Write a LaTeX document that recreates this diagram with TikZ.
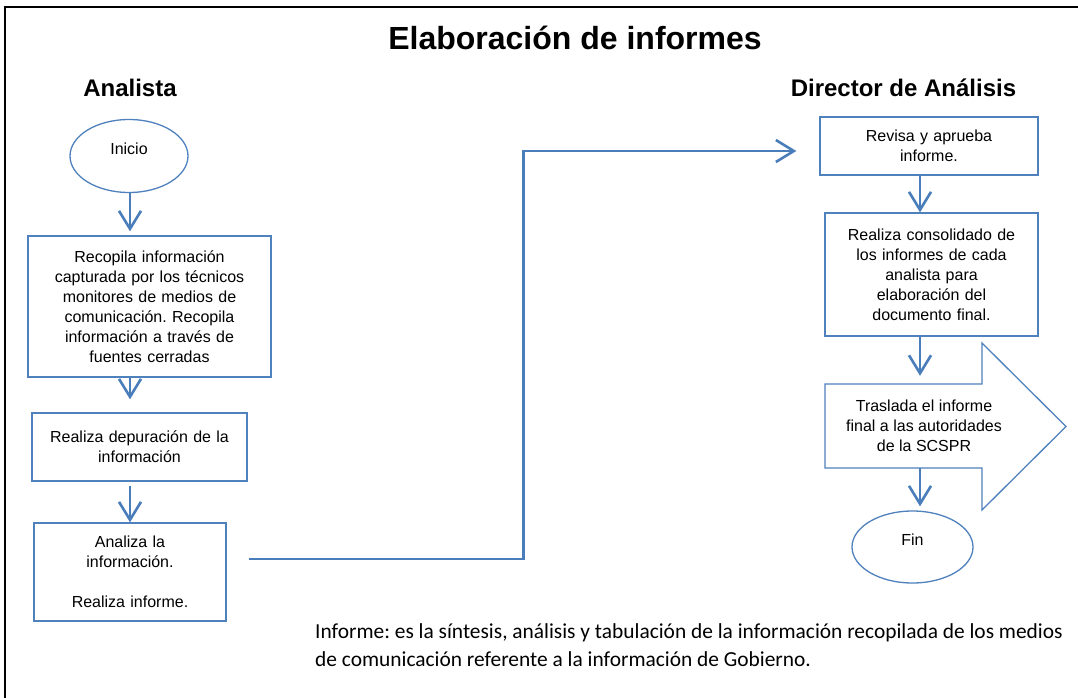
\documentclass[tikz,border=0pt]{standalone}
\usepackage{fontspec}
\setmainfont{Liberation Sans}
\newfontfamily\calfont{Carlito}
\usetikzlibrary{arrows.meta,shapes.geometric,calc}
\definecolor{boxblue}{HTML}{4F81BD}
\definecolor{arrblue}{HTML}{4A7EBB}
\frenchspacing
\tikzset{
  boxline/.style={draw=boxblue, line width=1.3pt},
  flowbox/.style={boxline, rectangle, inner sep=0pt, align=center, font=\fontsize{16}{20}\selectfont},
  flowend/.style={boxline, ellipse, inner sep=0pt, align=center, font=\fontsize{16}{20}\selectfont},
  conn/.style={draw=arrblue, line width=2.6pt, -{Straight Barb[length=18pt,width=22pt,line width=2.6pt]}},
  lane/.style={font=\bfseries\fontsize{24}{28}\selectfont},
}
\begin{document}
\begin{tikzpicture}[x=1pt,y=-1pt]
\useasboundingbox (0,0) rectangle (1078,698);
\fill[white] (0,0) rectangle (1078,698);
\draw[line width=2pt] (4.5,698) -- (4.5,7.5) -- (1078,7.5);

\node[font=\bfseries\fontsize{32}{36}\selectfont] (title) at (575,38) {Elaboración de informes};
\node[lane] (anal) at (130,88) {Analista};
\node[lane] (dir) at (903.5,88) {Director de Análisis};

\coordinate (acol) at (130,0);
\coordinate (dcol) at (920,0);

% Analista column
\node[flowend, minimum width=118pt, minimum height=73pt, text depth=14pt] (ini) at (129,156) {Inicio};
\node[flowbox, minimum width=243pt, minimum height=141pt, text width=236pt] (b1) at (149.5,306.5)
  {Recopila información\\capturada por los técnicos\\monitores de medios de\\comunicación. Recopila\\información a través de\\fuentes cerradas};
\node[flowbox, minimum width=215pt, minimum height=68pt, text width=210pt] (b2) at (139.5,447)
  {Realiza depuración de la\\información\\[10pt]};
\node[flowbox, minimum width=192pt, minimum height=98pt, text width=186pt] (b3) at (130,572)
  {Analiza la\\información.\\[20pt]Realiza informe.};

% Director column
\node[flowbox, minimum width=218pt, minimum height=58pt, text width=212pt] (rev) at (929,146)
  {Revisa y aprueba\\informe.};
\node[flowbox, minimum width=213pt, minimum height=123pt, text width=206pt] (con) at (931.5,274.5)
  {Realiza consolidado de\\los informes de cada\\analista para\\elaboración del\\documento final.};
\node[inner sep=0pt, minimum width=157pt, minimum height=84pt, align=center, font=\fontsize{16}{20}\selectfont] (tras) at (924,426)
  {Traslada el informe\\final a las autoridades\\de la SCSPR};
\draw[boxline] (825,384) -- (982,384) -- (982,343) -- (1066,426.5) -- (982,510) -- (982,468) -- (825,468) -- cycle;
\node[flowend, minimum width=121pt, minimum height=72pt, text depth=14pt] (fin) at (912.5,547) {Fin};

% connectors
\draw[conn, shorten >=4pt] (ini.south -| acol) -- (b1.north -| acol);
\draw[conn, shorten >=13pt] (b1.south -| acol) -- (b2.north -| acol);
\draw[conn, shorten <=4pt] (b2.south -| acol) -- (b3.north -| acol);
\draw[conn, shorten >=23pt] ([xshift=22pt,yshift=13pt]b3.east) -- ++(275,0) |- ([yshift=-5pt]rev.west);
\draw[conn] (rev.south -| dcol) -- (con.north -| dcol);
\draw[conn, shorten >=8pt] (con.south -| dcol) -- (tras.north -| dcol);
\draw[conn, shorten >=4pt] (tras.south -| dcol) -- (fin.north -| dcol);

\node[anchor=base west, align=left, inner sep=0pt, font=\calfont\fontsize{21.4}{28}\selectfont] (note) at (315,666)
  {Informe: es la síntesis, análisis y tabulación de la información recopilada de los medios\\de comunicación referente a la información de Gobierno.};
\end{tikzpicture}
\end{document}
